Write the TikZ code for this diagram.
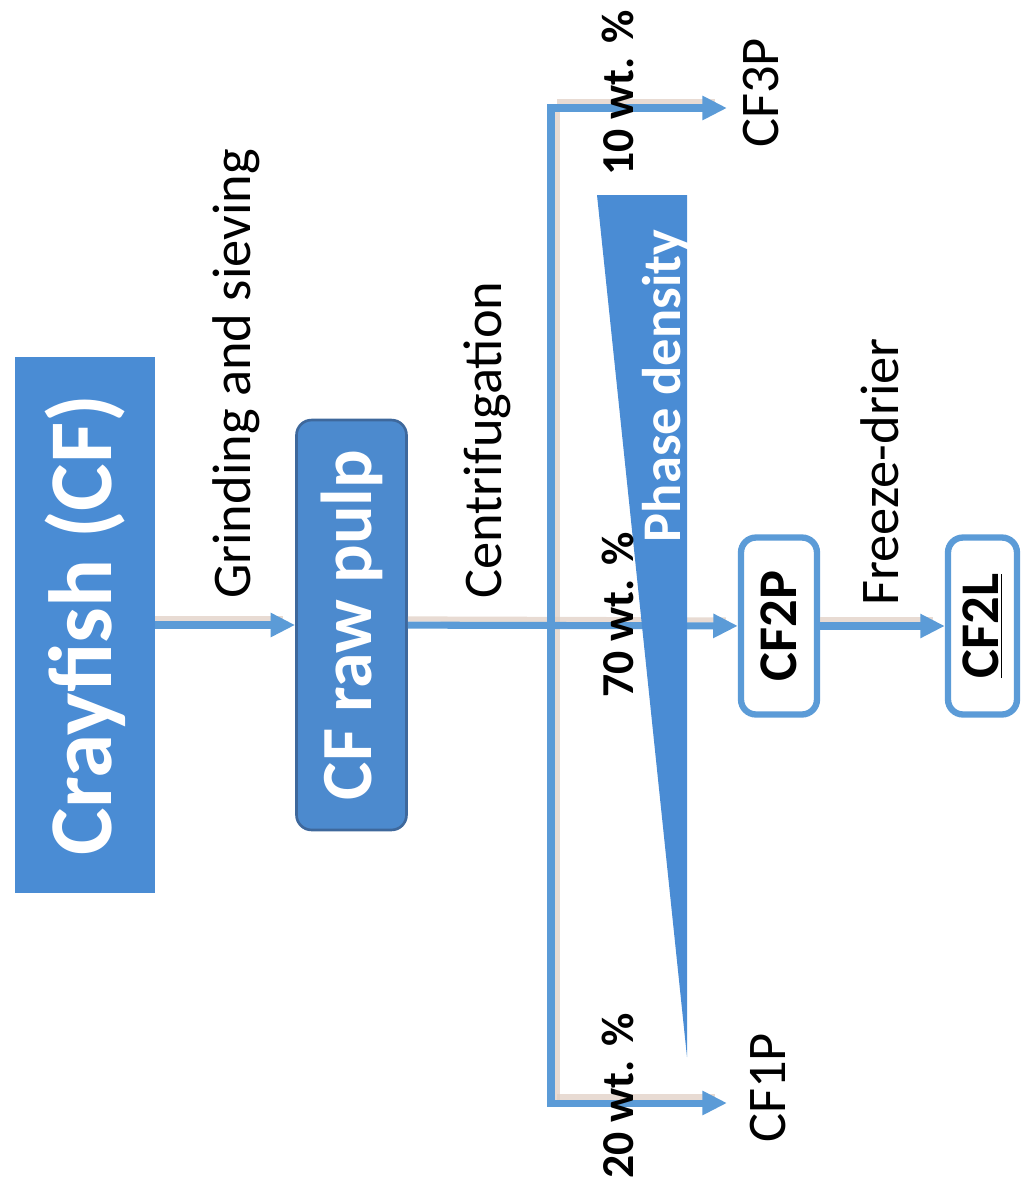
\documentclass[tikz,border=0pt]{standalone}
\usepackage{fontspec}
\setmainfont{Carlito}
\usetikzlibrary{arrows.meta,calc}
\definecolor{boxblue}{RGB}{74,140,212}
\definecolor{lineblue}{RGB}{91,155,215}
\definecolor{pulpblue}{RGB}{76,138,206}
\definecolor{pulpedge}{RGB}{62,104,156}
\definecolor{shadowtan}{RGB}{222,204,192}
\begin{document}
\begin{tikzpicture}[x=0.02cm,y=-0.02cm,
  flow/.style={draw=lineblue, line width=4pt, line join=miter, -{Triangle[length=14pt,width=13pt]}},
  shadowline/.style={draw=shadowtan, line width=3pt, opacity=0.7},
  lbl/.style={rotate=90, anchor=base, inner sep=0pt, font=\fontsize{31}{31}\selectfont},
  pct/.style={rotate=90, anchor=base, inner sep=0pt, font=\bfseries\fontsize{26}{26}\selectfont},
  bigbox/.style={rotate=90, fill=boxblue, inner sep=0pt, text=white, font=\bfseries\fontsize{51}{51}\selectfont},
  pulpbox/.style={rotate=90, fill=pulpblue, draw=pulpedge, line width=1.5pt, rounded corners=0.3cm, inner sep=0pt, text=white, font=\bfseries\fontsize{41}{41}\selectfont},
  prodbox/.style={rotate=90, fill=white, draw=lineblue, line width=3.6pt, rounded corners=0.3cm, inner sep=0pt, font=\bfseries\fontsize{31}{31}\selectfont}
]
\useasboundingbox (0,0) rectangle (1027,1198);

% boxes
\node[bigbox, minimum width=10.74cm, minimum height=2.8cm] (cf) at (85,625) {Crayfish (CF)};
\node[pulpbox, minimum width=8.2cm, minimum height=2.2cm] (pulp) at (351.5,625) {CF raw pulp};
\node[prodbox, minimum width=3.54cm, minimum height=1.52cm] (cf2p) at (779,626) {CF2P};
\node[prodbox, minimum width=3.54cm, minimum height=1.38cm] (cf2l) at (982.5,626) {\underline{CF2L}};

% coordinates for branches
\coordinate (j) at (551,625);
\coordinate (e3) at (727,108);
\coordinate (e1) at (727,1103);

% shadows
\draw[shadowline] ([shift={(0,-6)}]cf.south) -- ([shift={(-12,-6)}]pulp.north);
\draw[shadowline] ([shift={(0,-6)}]pulp.south) -- ([shift={(-12,-6)}]cf2p.north);
\draw[shadowline] ([shift={(0,-6)}]cf2p.south) -- ([shift={(-12,-6)}]cf2l.north);
\draw[shadowline] ([shift={(6,-3)}]j |- e3) -- ([shift={(6,3)}]j |- e1);
\draw[shadowline] ([shift={(6,-6)}]j |- e3) -- ([shift={(-12,-6)}]e3);
\draw[shadowline] ([shift={(6,-6)}]j |- e1) -- ([shift={(-12,-6)}]e1);

% connectors
\draw[flow] (cf) -- (pulp);
\draw[flow] (pulp) -- (cf2p);
\draw[flow] (cf2p) -- (cf2l);
\draw[flow] (j) |- (e3);
\draw[flow] (j) |- (e1);

% phase density wedge
\fill[boxblue] (597,195) -- (687,195) -- (687,1057) -- cycle;
\node[lbl, text=white, font=\bfseries\fontsize{31}{31}\selectfont] (phase) at (680,386) {Phase density};

% labels
\node[lbl] (grind) at (250,374) {Grinding and sieving};
\node[lbl] (centri) at (501,440) {Centrifugation};
\node[lbl] (freeze) at (898,472) {Freeze-drier};
\node[pct] (p10) at (633,93) {10 wt. \%};
\node[pct] (p70) at (633,615) {70 wt. \%};
\node[pct] (p20) at (633,1096) {20 wt. \%};
\node[lbl] (cf3p) at (778,93) {CF3P};
\node[lbl] (cf1p) at (785,1088) {CF1P};
\end{tikzpicture}
\end{document}
